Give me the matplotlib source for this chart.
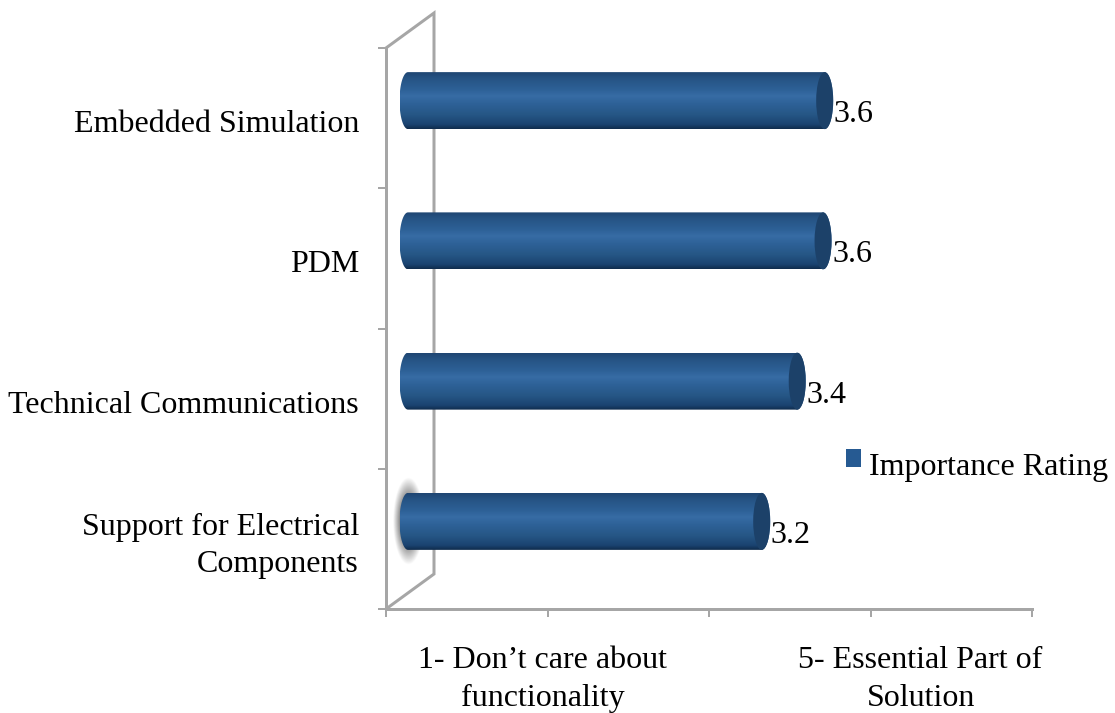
import numpy as np
import matplotlib
matplotlib.use("Agg")
import matplotlib.pyplot as plt
from matplotlib.patches import Ellipse, Polygon, Patch, Rectangle
from matplotlib.colors import LinearSegmentedColormap
from matplotlib.legend_handler import HandlerPatch
from matplotlib.transforms import ScaledTranslation

categories = ["Support for Electrical\nComponents", "Technical Communications", "PDM", "Embedded Simulation"]
values = [3.19, 3.41, 3.57, 3.58]
value_labels = ["3.2", "3.4", "3.6", "3.6"]
series_name = "Importance Rating"
x_scale_labels = ["1- Don\u2019t care about\nfunctionality", "5- Essential Part of\nSolution"]
x_scale_positions = [1.97, 4.31]

W, H = 1115, 713
PX = 0.72
FS = 32 * PX
GREY = "#a6a6a6"
plt.rcParams["font.family"] = ["Liberation Serif", "DejaVu Serif"]

fig = plt.figure(figsize=(W / 100, H / 100), dpi=100, facecolor="white")
L, R, T, B = 386, 1032, 48, 609
ax = fig.add_axes([L / W, 1 - B / H, (R - L) / W, (B - T) / H])

xmin, xmax, ymin, ymax = 1, 5, 0, 4
ux = (R - L) / (xmax - xmin)
uy = (B - T) / (ymax - ymin)
depth_x, depth_y = 48 / ux, 35 / uy
mid_x, mid_y = 22 / ux, depth_y / 2
half_h = 28.5 / uy
cap_w = 8.5 / ux

cmap = LinearSegmentedColormap.from_list("cyl", [
    (0.00, "#1f4672"), (0.12, "#265485"), (0.30, "#2d6096"), (0.42, "#376ca5"),
    (0.55, "#2e6298"), (0.75, "#265685"), (0.92, "#1a4370"), (1.00, "#0f2b4c")])
grad = np.linspace(0, 1, 256).reshape(-1, 1)

# wall of the 3D frame
ax.plot([xmin, xmin + depth_x, xmin + depth_x, xmin],
        [ymax, ymax + depth_y, ymin + depth_y, ymin],
        color=GREY, lw=3 * PX, clip_on=False, zorder=1, solid_joinstyle="miter")

# soft shadow at the base of the lowest bar
yy, xx = np.mgrid[-1:1:120j, -1:1:120j]
alpha = np.clip(1 - np.sqrt(xx**2 + yy**2), 0, 1)
shadow = np.zeros((120, 120, 4))
shadow[..., :3] = 0.35
shadow[..., 3] = np.clip(alpha * 1.6, 0, 0.9)
ax.imshow(shadow, extent=[xmin + mid_x - 15 / ux, xmin + mid_x + 16 / ux,
                          0.5 + mid_y - 44 / uy, 0.5 + mid_y + 44 / uy],
          aspect="auto", zorder=1.5, interpolation="bilinear")

t = np.linspace(-np.pi / 2, np.pi / 2, 40)
for i, (v, lab) in enumerate(zip(values, value_labels)):
    yc = i + 0.5 + mid_y
    x0, x1 = xmin + mid_x, v + mid_x
    right = np.c_[x1 + cap_w * np.cos(t), yc + half_h * np.sin(t)]
    left = np.c_[x0 - cap_w * np.cos(t[::-1]), yc + half_h * np.sin(t[::-1])]
    body = Polygon(np.r_[right, left], closed=True, transform=ax.transData, fc="none", ec="none")
    ax.add_patch(body)
    im = ax.imshow(grad, cmap=cmap, extent=[x0 - cap_w, x1 + cap_w, yc - half_h, yc + half_h],
                   aspect="auto", zorder=3, origin="upper", interpolation="bilinear")
    im.set_clip_path(body)
    ax.add_patch(Ellipse((x1, yc), 2 * cap_w, 2 * half_h, angle=0, fc="#1c4169", ec="none", zorder=4))
    ax.annotate(lab, xy=(x1 + cap_w, yc), xytext=(0.5 * PX, -14 * PX), textcoords="offset points",
                ha="left", va="center", fontsize=FS, color="black", zorder=5)

ax.set_xlim(xmin, xmax)
ax.set_ylim(ymin, ymax)

for s in ("top", "right"):
    ax.spines[s].set_visible(False)
for s in ("left", "bottom"):
    ax.spines[s].set_color(GREY)
    ax.spines[s].set_linewidth(3 * PX)
    ax.spines[s].set_zorder(2)

ax.set_xticks(np.arange(xmin, xmax + 1))
ax.set_xticklabels([])
ax.set_yticks(np.arange(ymin, ymax + 1))
ax.set_yticklabels([])
ax.tick_params(axis="both", which="major", direction="out", length=8 * PX, width=2 * PX, color=GREY)

ax.set_xticks(x_scale_positions, minor=True)
ax.set_xticklabels(x_scale_labels, minor=True, fontsize=FS, linespacing=1.4)
ax.set_yticks(np.arange(len(categories)) + 0.5, minor=True)
ax.set_yticklabels(categories, minor=True, fontsize=FS, ha="right", linespacing=1.33)
ax.tick_params(axis="x", which="minor", length=0, pad=37 * PX)
ax.tick_params(axis="y", which="minor", length=0, pad=27 * PX)
for lbl in ax.get_yticklabels(minor=True):
    if "\n" not in lbl.get_text():
        lbl.set_transform(lbl.get_transform() + ScaledTranslation(0, -3 / 100, fig.dpi_scale_trans))


def raised_square(legend, orig_handle, xdescent, ydescent, width, height, fontsize):
    return Rectangle((-xdescent, -ydescent + 5 * PX), width, height)


ax.legend(handles=[Patch(fc="#265a92", ec="none", label=series_name)],
          handler_map={Patch: HandlerPatch(patch_func=raised_square)},
          loc="center left", bbox_to_anchor=(0.712, 0.253), frameon=False,
          fontsize=FS, handlelength=0.48, handleheight=0.48, handletextpad=0.25,
          borderpad=0, borderaxespad=0)

fig.savefig("out.png", dpi=100, facecolor="white")
